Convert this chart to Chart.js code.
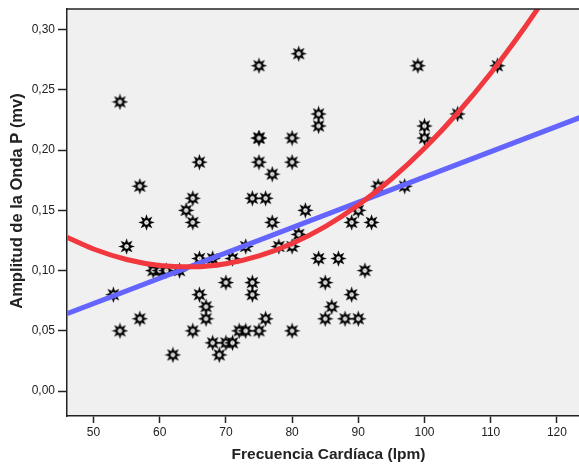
<!DOCTYPE html>
<html>
<head>
<meta charset="utf-8">
<script src="https://cdn.jsdelivr.net/npm/chart.js@4.4.0/dist/chart.umd.min.js"></script>
<style>
    html, body { margin: 0; padding: 0; overflow: hidden; background: #fff; }
</style>
</head>
<body>
<canvas id="scatterChart" width="591" height="466"></canvas>
<script>
// puntos observados (frecuencia cardíaca, amplitud onda P)
const heartRate = [53, 54, 54, 55, 57, 57, 58, 59, 60, 61, 62, 63, 64, 65, 65, 65, 66, 66, 66, 67, 67, 68, 68, 69,
    70, 70, 71, 71, 72, 73, 73, 74, 74, 74, 75, 75, 75, 75, 75, 76, 76, 77, 77, 78, 80, 80, 80, 80,
    81, 81, 82, 84, 84, 84, 85, 85, 86, 87, 88, 89, 89, 90, 90, 91, 92, 93, 97, 99, 100, 100, 105, 111];
const pWave = [0.08, 0.05, 0.24, 0.12, 0.17, 0.06, 0.14, 0.10, 0.10, 0.10, 0.03, 0.10, 0.15, 0.16, 0.14, 0.05, 0.19, 0.11, 0.08, 0.07, 0.06, 0.11, 0.04, 0.03,
    0.09, 0.04, 0.11, 0.04, 0.05, 0.05, 0.12, 0.16, 0.09, 0.08, 0.27, 0.21, 0.21, 0.19, 0.05, 0.16, 0.06, 0.18, 0.14, 0.12, 0.21, 0.19, 0.12, 0.05,
    0.28, 0.13, 0.15, 0.23, 0.22, 0.11, 0.09, 0.06, 0.07, 0.11, 0.06, 0.14, 0.08, 0.15, 0.06, 0.10, 0.14, 0.17, 0.17, 0.27, 0.22, 0.21, 0.23, 0.27];

// ajuste lineal
const linearX = [46, 125];
const linearY = [0.0643, 0.2302];

// ajuste cuadrático
const quadX = [46, 50, 55, 60, 65, 70, 75, 80, 85, 90, 95, 100, 105, 110, 115, 118];
const quadY = [0.1276, 0.1179, 0.1092, 0.1042, 0.1031, 0.1057, 0.1122, 0.1225, 0.1365, 0.1544, 0.1760, 0.2015, 0.2308, 0.2638, 0.3007, 0.3246];

const xTicks = [50, 60, 70, 80, 90, 100, 110, 120];
const yTicks = [0, 0.05, 0.10, 0.15, 0.20, 0.25, 0.30];

const yTitle = 'Amplitud de la Onda P (mv)';
const xTitle = 'Frecuencia Cardíaca (lpm)';

// área de trazado buscada (la derecha queda fuera de la ventana)
const AREA_TOP = 7;
const AREA_RIGHT = 590;

// marcador estrella de 8 puntas
function makeStar() {
    const c = document.createElement('canvas');
    c.width = 17; c.height = 17;
    const g = c.getContext('2d');
    const cx = 8.5, cy = 8.5;
    g.beginPath();
    for (let i = 0; i < 16; i++) {
        const r = i % 2 === 0 ? 8.3 : 4;
        const a = -Math.PI / 2 + i * Math.PI / 8;
        const px = cx + r * Math.cos(a), py = cy + r * Math.sin(a);
        if (i === 0) g.moveTo(px, py); else g.lineTo(px, py);
    }
    g.closePath();
    g.fillStyle = '#000';
    g.fill();
    g.beginPath();
    g.arc(cx, cy, 2.2, 0, Math.PI * 2);
    g.fillStyle = '#fff';
    g.fill();
    g.beginPath();
    g.arc(cx, cy, 1.1, 0, Math.PI * 2);
    g.fillStyle = '#aaa';
    g.fill();
    return c;
}

const plotFrame = {
    id: 'plotFrame',
    beforeDraw(chart) {
        const { ctx, chartArea: a } = chart;
        ctx.save();
        ctx.fillStyle = '#f0f0f0';
        ctx.fillRect(a.left, a.top, a.right - a.left, a.bottom - a.top);
        ctx.restore();
    },
    afterDraw(chart) {
        const { ctx, chartArea: a } = chart;
        ctx.save();
        ctx.strokeStyle = '#222';
        ctx.lineWidth = 1.5;
        ctx.beginPath();
        ctx.moveTo(a.left, a.top);
        ctx.lineTo(a.right, a.top);
        ctx.stroke();
        // título del eje Y
        ctx.translate(17, 201);
        ctx.rotate(-Math.PI / 2);
        ctx.fillStyle = '#222';
        ctx.font = 'bold 16.5px "Liberation Sans"';
        ctx.textAlign = 'center';
        ctx.textBaseline = 'middle';
        ctx.fillText(yTitle, 0, 0);
        ctx.restore();
    }
};

const fmt = v => v.toFixed(2).replace('.', ',');

function buildChart(canvas, padTop) {
    return new Chart(canvas, {
        type: 'scatter',
        data: {
            datasets: [
                {
                    data: heartRate.map((x, i) => ({ x: x, y: pWave[i] })),
                    pointStyle: makeStar(),
                    pointRadius: 8,
                    order: 3
                },
                {
                    type: 'line',
                    data: linearX.map((x, i) => ({ x: x, y: linearY[i] })),
                    borderColor: '#6464ff',
                    borderWidth: 5,
                    pointRadius: 0,
                    fill: false,
                    order: 2
                },
                {
                    type: 'line',
                    data: quadX.map((x, i) => ({ x: x, y: quadY[i] })),
                    borderColor: '#f0383e',
                    borderWidth: 5,
                    pointRadius: 0,
                    fill: false,
                    cubicInterpolationMode: 'monotone',
                    order: 1
                }
            ]
        },
        options: {
            responsive: false,
            maintainAspectRatio: false,
            animation: false,
            devicePixelRatio: 1,
            layout: { padding: { top: padTop, right: 0, left: 0, bottom: 0 } },
            plugins: {
                legend: { display: false },
                tooltip: { enabled: false }
            },
            scales: {
                x: {
                    type: 'linear',
                    min: 46,
                    max: 125,
                    afterFit: s => { s.height = 50; },
                    afterBuildTicks: s => { s.ticks = xTicks.map(v => ({ value: v })); },
                    grid: { drawOnChartArea: false, drawTicks: true, tickLength: 7, tickColor: '#222', tickWidth: 1.5 },
                    border: { display: true, color: '#222', width: 1.5 },
                    ticks: { color: '#222', padding: 2, font: { family: 'Liberation Sans', size: 12 } },
                    title: {
                        display: true,
                        text: xTitle,
                        color: '#222',
                        font: { family: 'Liberation Sans', size: 15.5, weight: 'bold' },
                        padding: { top: 0, bottom: 2 }
                    }
                },
                y: {
                    type: 'linear',
                    min: -0.0207,
                    max: 0.3171,
                    afterFit: s => { s.width = 67; s.paddingTop = 0; s.paddingBottom = 0; },
                    afterBuildTicks: s => { s.ticks = yTicks.map(v => ({ value: v })); },
                    grid: { drawOnChartArea: false, drawTicks: true, tickLength: 9, tickColor: '#222', tickWidth: 1.5 },
                    border: { display: true, color: '#222', width: 1.5 },
                    ticks: { color: '#222', padding: 3, callback: v => fmt(v), font: { family: 'Liberation Sans', size: 12 } }
                }
            }
        },
        plugins: [plotFrame]
    });
}

const canvas = document.getElementById('scatterChart');
let chart = buildChart(canvas, AREA_TOP);
const dx = Math.round(AREA_RIGHT - chart.chartArea.right);
const dy = Math.round(chart.chartArea.top - AREA_TOP);
if (dx !== 0 || dy !== 0) {
    chart.destroy();
    canvas.width = 591 + dx;
    canvas.height = 466;
    chart = buildChart(canvas, Math.max(0, AREA_TOP - dy));
}
</script>
</body>
</html>
